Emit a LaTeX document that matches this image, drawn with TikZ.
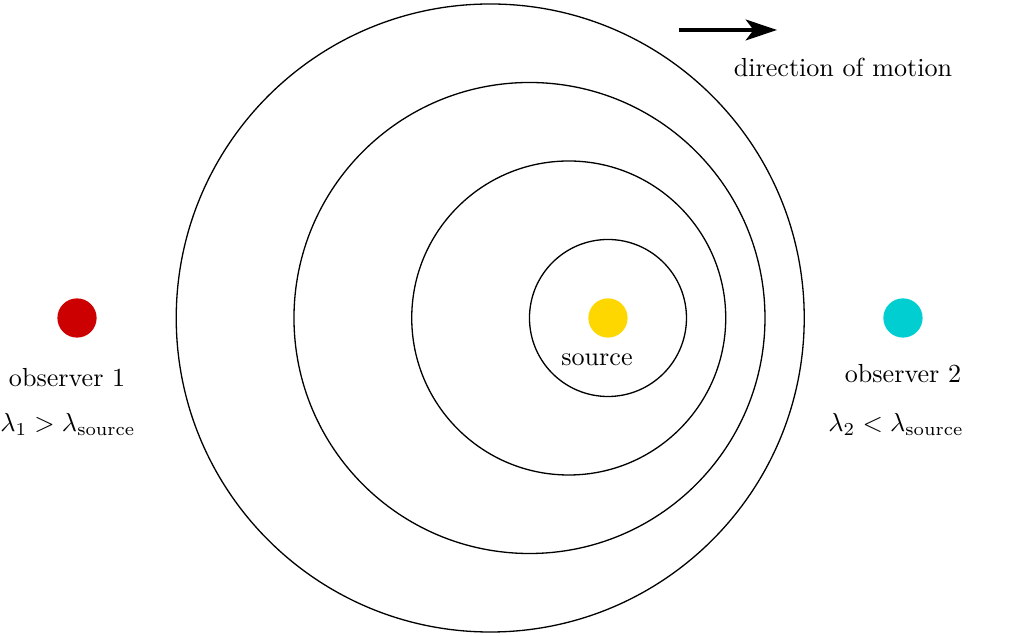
\documentclass[tikz,border=0pt]{standalone}
\usepackage{tikz}
\usetikzlibrary{arrows, arrows.meta, positioning}

\definecolor{obsred}{RGB}{204,0,0}
\definecolor{obscyan}{RGB}{0,206,209}
\definecolor{srcyellow}{RGB}{255,215,0}

\begin{document}
\begin{tikzpicture}[
	x=1.057cm,
	y=1.057cm
]
	\useasboundingbox (-7.745,-4.051) rectangle (5.121,4.051);
	% wave fronts
	\foreach \r in {1,2,3,4} {
		\draw[
			line width=0.5pt
		] ({-0.5*(\r-1)},0) circle (\r);
	}
	% source
	\fill[
		color=srcyellow
	] (0,0) circle (0.25);
	\node (src) at (-0.14,-0.53) {source};
	% observers
	\fill[
		color=obsred
	] (-6.764,0) circle (0.25);
	\node (obs1) at (-6.89,-0.76) {observer 1};
	\node (lam1) at (-6.88,-1.36) {$\lambda_1 > \lambda_{\mathrm{source}}$};
	\fill[
		color=obscyan
	] (3.758,0) circle (0.25);
	\node (obs2) at (3.758,-0.71) {observer 2};
	\node (lam2) at (3.67,-1.36) {$\lambda_2 < \lambda_{\mathrm{source}}$};
	% motion
	\coordinate (arrtail) at (0.9,3.669);
	\coordinate (arrhead) at (2.153,3.669);
	\draw[
		-{Stealth[length=12pt,width=8pt,inset=3pt]},
		line width=1.2pt
	] (arrtail) -- (arrhead);
	\node (dir) at (2.994,3.197) {direction of motion};
\end{tikzpicture}
\end{document}
